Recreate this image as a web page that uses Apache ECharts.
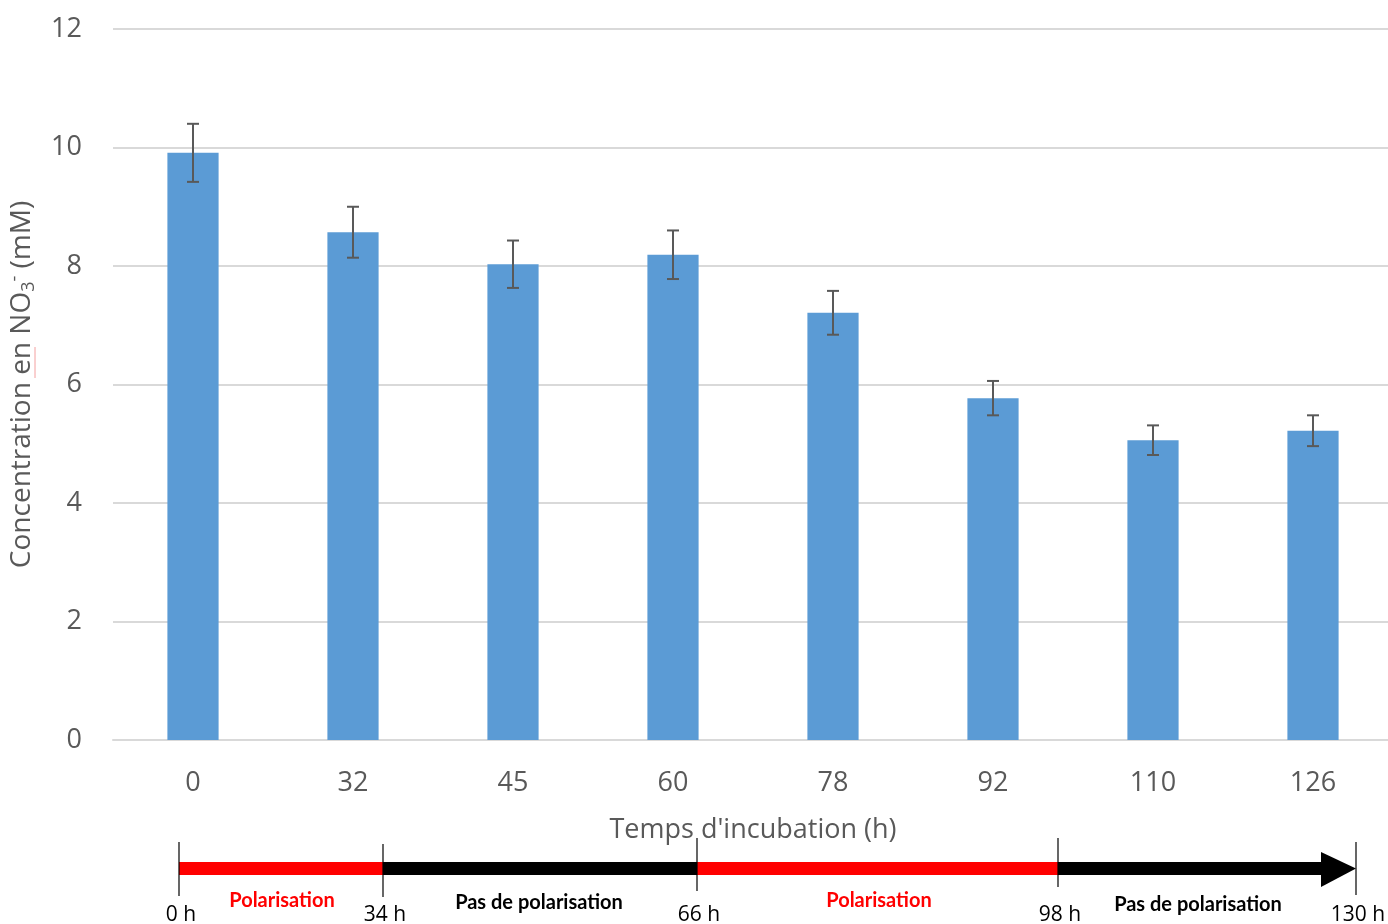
<!DOCTYPE html>
<html>
<head>
<meta charset="utf-8">
<script src="https://cdn.jsdelivr.net/npm/echarts@6/dist/echarts.min.js"></script>
<style>
html,body{margin:0;padding:0;background:#fff;}
#chart{width:1388px;height:924px;}
</style>
</head>
<body>
<div id="chart"></div>
<script>
const categories = ['0', '32', '45', '60', '78', '92', '110', '126'];
const concentration = [9.91, 8.57, 8.03, 8.19, 7.21, 5.77, 5.06, 5.22];
const errors = [0.49, 0.43, 0.40, 0.41, 0.37, 0.29, 0.25, 0.26];
const yTicks = [0, 2, 4, 6, 8, 10, 12];
const timelineMarks = ['0 h', '34 h', '66 h', '98 h', '130 h'];
const timelinePhases = ['Polarisation', 'Pas de polarisation', 'Polarisation', 'Pas de polarisation'];

const chart = echarts.init(document.getElementById('chart'));
const txt = '#595959';
const mainFont = 'Open Sans';

// Timeline layout (decorative annotation, pixel layout)
const markX = [179, 383, 697, 1058, 1356];
const markTop = [842, 844, 838, 838, 842];
const markBottom = [896, 897, 891, 887, 895];
const phaseColor = ['#FF0000', '#000000', '#FF0000', '#000000'];
const phaseLabelX = [282, 539, 879, 1198];
const phaseLabelY = [901, 903, 901, 905];
const barY = 862, barH = 13;
const headStart = 1321;

const graphics = [];
for (let i = 0; i < timelinePhases.length; i++) {
  const x0 = markX[i];
  const x1 = (i === timelinePhases.length - 1) ? headStart : markX[i + 1];
  graphics.push({type: 'rect', shape: {x: x0, y: barY, width: x1 - x0, height: barH},
    style: {fill: phaseColor[i]}, z: 10});
  graphics.push({type: 'text', x: phaseLabelX[i], y: phaseLabelY[i],
    style: {text: timelinePhases[i], fill: phaseColor[i], font: 'bold 20px Lato',
      align: 'center', verticalAlign: 'middle'}, z: 12});
}
graphics.push({type: 'polygon', shape: {points: [[headStart, 852], [markX[4], 868.5], [headStart, 887]]},
  style: {fill: '#000'}, z: 11});
for (let i = 0; i < timelineMarks.length; i++) {
  graphics.push({type: 'line', shape: {x1: markX[i], y1: markTop[i], x2: markX[i], y2: markBottom[i]},
    style: {stroke: '#000', lineWidth: 1.2}, z: 13});
  graphics.push({type: 'text', x: markX[i] + 2, y: 915,
    style: {text: timelineMarks[i], fill: '#000', font: '21px "' + mainFont + '"',
      align: 'center', verticalAlign: 'middle'}, z: 12});
}
// spell-check squiggle under "en" in the axis title
graphics.push({type: 'line', shape: {x1: 35, y1: 347, x2: 35, y2: 378},
  style: {stroke: '#F4A0A0', lineWidth: 1}, z: 5});

const option = {
  animation: false,
  backgroundColor: '#fff',
  grid: {left: 113, right: -5, top: 29, bottom: 184, containLabel: false, outerBoundsMode: 'none'},
  xAxis: {
    type: 'category',
    data: categories,
    axisLine: {show: true, lineStyle: {color: '#D9D9D9', width: 2}},
    axisTick: {show: false},
    axisLabel: {color: txt, fontSize: 27, fontFamily: mainFont, margin: 30},
    name: "Temps d'incubation (h)",
    nameLocation: 'middle',
    nameGap: 77,
    nameTextStyle: {color: txt, fontSize: 27, fontFamily: mainFont}
  },
  yAxis: {
    type: 'value',
    min: yTicks[0],
    max: yTicks[yTicks.length - 1],
    interval: yTicks[1] - yTicks[0],
    axisLine: {show: false},
    axisTick: {show: false},
    splitLine: {lineStyle: {color: '#D9D9D9', width: 2}},
    axisLabel: {color: txt, fontSize: 27, fontFamily: mainFont, margin: 31},
    name: '{m|Concentration en NO}{sub|3}{sup|-}{m| (mM)}',
    nameLocation: 'middle',
    nameRotate: 90,
    nameGap: 67,
    nameTextStyle: {
      color: txt, fontSize: 28, fontFamily: mainFont,
      rich: {
        m: {color: txt, fontSize: 28, fontFamily: mainFont, lineHeight: 36, verticalAlign: 'middle'},
        sub: {color: txt, fontSize: 18, fontFamily: mainFont, lineHeight: 36, verticalAlign: 'bottom', padding: [0, 0, 2, 0]},
        sup: {color: txt, fontSize: 18, fontFamily: mainFont, lineHeight: 36, verticalAlign: 'top', padding: [2, 0, 0, 0]}
      }
    }
  },
  series: [
    {
      type: 'bar',
      data: concentration,
      barWidth: '32%',
      itemStyle: {color: '#5B9BD5'},
      z: 2
    },
    {
      type: 'custom',
      data: concentration.map((v, i) => [i, v, errors[i]]),
      z: 5,
      renderItem: function (params, api) {
        const i = api.value(0), v = api.value(1), e = api.value(2);
        const top = api.coord([i, v + e]);
        const bot = api.coord([i, v - e]);
        const hw = 6;
        const style = {stroke: '#595959', lineWidth: 2};
        return {type: 'group', children: [
          {type: 'line', shape: {x1: top[0], y1: top[1], x2: bot[0], y2: bot[1]}, style: style},
          {type: 'line', shape: {x1: top[0] - hw, y1: top[1], x2: top[0] + hw, y2: top[1]}, style: style},
          {type: 'line', shape: {x1: bot[0] - hw, y1: bot[1], x2: bot[0] + hw, y2: bot[1]}, style: style}
        ]};
      }
    }
  ],
  graphic: graphics
};
chart.setOption(option);
</script>
</body>
</html>
